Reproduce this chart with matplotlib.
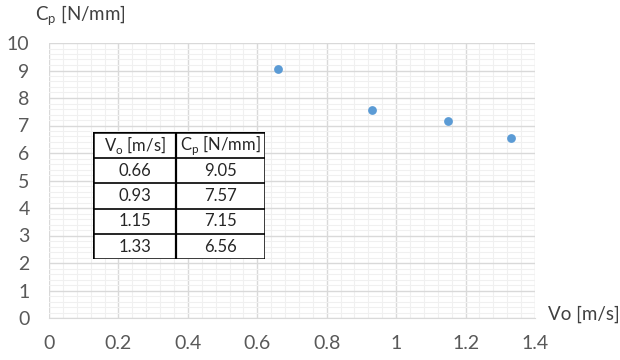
import matplotlib
matplotlib.use("Agg")
import matplotlib.pyplot as plt
from matplotlib.ticker import MultipleLocator

vo = [0.66, 0.93, 1.15, 1.33]
cp = [9.05, 7.57, 7.15, 6.56]
vo_labels = ["0.66", "0.93", "1.15", "1.33"]
cp_labels = ["9.05", "7.57", "7.15", "6.56"]
xticks = [0, 0.2, 0.4, 0.6, 0.8, 1, 1.2, 1.4]
xtick_labels = ["0", "0.2", "0.4", "0.6", "0.8", "1", "1.2", "1.4"]
yticks = list(range(0, 11))

plt.rcParams['font.family'] = ['Lato', 'DejaVu Sans']
W, H = 620, 360
fig = plt.figure(figsize=(W / 100, H / 100), dpi=100)
ax = fig.add_axes([49 / W, 1 - 318 / H, (535 - 49) / W, (318 - 43) / H])

ax.set_xlim(0, 1.4)
ax.set_ylim(0, 10)
ax.set_xticks(xticks)
ax.set_xticklabels(xtick_labels)
ax.set_yticks(yticks)
ax.xaxis.set_minor_locator(MultipleLocator(0.04))
ax.yaxis.set_minor_locator(MultipleLocator(0.2))
ax.grid(which='major', color='#d9d9d9', linewidth=1.0)
ax.grid(which='minor', color='#f0f0f0', linewidth=0.8)
ax.set_axisbelow(True)
for s in ax.spines.values():
    s.set_visible(False)
ax.spines['bottom'].set_visible(True)
ax.spines['bottom'].set_color('#d9d9d9')
ax.tick_params(which='both', length=0, labelsize=14, colors='#595959')
ax.tick_params(axis='x', pad=12)
ax.tick_params(axis='y', pad=14)

ax.scatter(vo, cp, s=40, color='#5b9bd5', zorder=3, linewidths=0)

fig.text(35 / W, 1 - 16 / H, r"C$_\mathregular{p}$ [N/mm]", fontsize=13.5, color='#404040',
         va='center', ha='left')
fig.text(548 / W, 1 - 314 / H, "Vo [m/s]", fontsize=13.5, color='#404040',
         va='center', ha='left')

# table
xl, xm, xr = 93, 176, 265
rows_y = [132, 158, 183, 209, 234, 259]
header = [r"V$_\mathregular{o}$ [m/s]", r"C$_\mathregular{p}$ [N/mm]"]
tab = fig.add_axes([xl / W, 1 - rows_y[-1] / H, (xr - xl) / W, (rows_y[-1] - rows_y[0]) / H])
tab.set_xlim(xl, xr)
tab.set_ylim(rows_y[-1], rows_y[0])
tab.axis('off')
tab.add_patch(plt.Rectangle((xl, rows_y[0]), xr - xl, rows_y[-1] - rows_y[0],
                            facecolor='white', edgecolor='black', linewidth=1.8, zorder=1))
tab.plot([xm, xm], [rows_y[0], rows_y[-1]], color='black', lw=1.6)
for y in rows_y[1:-1]:
    tab.plot([xl, xr], [y, y], color='black', lw=1.2)
cells = [header] + [[a, b] for a, b in zip(vo_labels, cp_labels)]
for i, (a, b) in enumerate(cells):
    yc = (rows_y[i] + rows_y[i + 1]) / 2
    tab.text((xl + xm) / 2, yc, a, ha='center', va='center', fontsize=12, color='#262626')
    tab.text((xm + xr) / 2, yc, b, ha='center', va='center', fontsize=12, color='#262626')

fig.savefig("out.png", dpi=100)
